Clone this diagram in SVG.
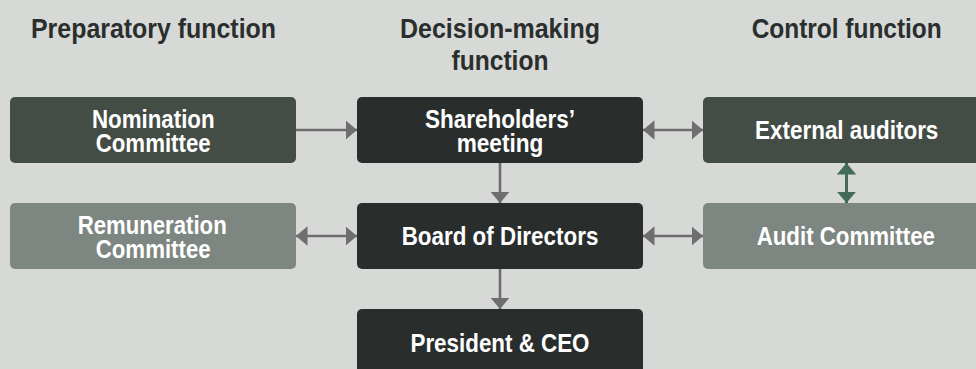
<svg xmlns="http://www.w3.org/2000/svg" width="976" height="369" viewBox="0 0 976 369">
  <defs>
    <style>
      .head { font-family: "Liberation Sans Narrow", "Liberation Sans", Arial, sans-serif; font-weight: bold; font-size: 28px; fill: #2a2f2e; text-anchor: middle; }
      .lbl { font-family: "Liberation Sans Narrow", "Liberation Sans", Arial, sans-serif; font-weight: bold; font-size: 26px; fill: #ffffff; text-anchor: middle; }
      .dark { fill: #292e2d; }
      .mid { fill: #434c45; }
      .light { fill: #7d8680; }
      .conn { stroke: #6e6e6e; stroke-width: 2.6; fill: none; }
      .connG { stroke: #436b5a; stroke-width: 3; fill: none; }
    </style>
    <marker id="ah" viewBox="0 0 11.5 19.5" refX="11.5" refY="9.75" markerWidth="11.5" markerHeight="19.5" markerUnits="userSpaceOnUse" orient="auto-start-reverse">
      <path d="M0,0 L11.5,9.75 L0,19.5 z" fill="#6e6e6e"/>
    </marker>
    <marker id="ahG" viewBox="0 0 11.5 19.5" refX="11.5" refY="9.75" markerWidth="11.5" markerHeight="19.5" markerUnits="userSpaceOnUse" orient="auto-start-reverse">
      <path d="M0,0 L11.5,9.75 L0,19.5 z" fill="#436b5a"/>
    </marker>
  </defs>
  <rect x="0" y="0" width="976" height="369" fill="#d7d9d7"/>

  <g id="headings">
    <text class="head" x="153.5" y="37.5" textLength="245" lengthAdjust="spacingAndGlyphs">Preparatory function</text>
    <text class="head" x="500" y="38" textLength="200" lengthAdjust="spacingAndGlyphs">Decision-making</text>
    <text class="head" x="500" y="69.5" textLength="97" lengthAdjust="spacingAndGlyphs">function</text>
    <text class="head" x="846.7" y="37.5" textLength="190" lengthAdjust="spacingAndGlyphs">Control function</text>
  </g>

  <g id="connectors">
    <path class="conn" d="M296,130 H357" marker-end="url(#ah)"/>
    <path class="conn" d="M643,130 H703" marker-start="url(#ah)" marker-end="url(#ah)"/>
    <path class="conn" d="M500,163 V203" marker-end="url(#ah)"/>
    <path class="conn" d="M296,236 H357" marker-start="url(#ah)" marker-end="url(#ah)"/>
    <path class="conn" d="M643,236 H703" marker-start="url(#ah)" marker-end="url(#ah)"/>
    <path class="conn" d="M500,269 V309" marker-end="url(#ah)"/>
    <path class="connG" d="M846.5,163 V203" marker-start="url(#ahG)" marker-end="url(#ahG)"/>
  </g>

  <g id="nomination">
    <rect class="mid" x="10" y="97" width="286" height="66" rx="5"/>
    <text class="lbl" x="153.3" y="128.3" textLength="122.7" lengthAdjust="spacingAndGlyphs">Nomination</text>
    <text class="lbl" x="153.2" y="151.7" textLength="115" lengthAdjust="spacingAndGlyphs">Committee</text>
  </g>
  <g id="shareholders">
    <rect class="dark" x="357" y="97" width="286" height="66" rx="5"/>
    <text class="lbl" x="500" y="128.3" textLength="150" lengthAdjust="spacingAndGlyphs">Shareholders’</text>
    <text class="lbl" x="500" y="151.7" textLength="86.7" lengthAdjust="spacingAndGlyphs">meeting</text>
  </g>
  <g id="external-auditors">
    <rect class="mid" x="703" y="97" width="290" height="66" rx="5"/>
    <text class="lbl" x="846.7" y="138.5" textLength="183.3" lengthAdjust="spacingAndGlyphs">External auditors</text>
  </g>
  <g id="remuneration">
    <rect class="light" x="10" y="203" width="286" height="66" rx="5"/>
    <text class="lbl" x="152.2" y="234.3" textLength="149" lengthAdjust="spacingAndGlyphs">Remuneration</text>
    <text class="lbl" x="153.2" y="257.7" textLength="115" lengthAdjust="spacingAndGlyphs">Committee</text>
  </g>
  <g id="board">
    <rect class="dark" x="357" y="203" width="286" height="66" rx="5"/>
    <text class="lbl" x="500" y="245" textLength="196.7" lengthAdjust="spacingAndGlyphs">Board of Directors</text>
  </g>
  <g id="audit-committee">
    <rect class="light" x="703" y="203" width="290" height="66" rx="5"/>
    <text class="lbl" x="845.8" y="245" textLength="178.3" lengthAdjust="spacingAndGlyphs">Audit Committee</text>
  </g>
  <g id="president">
    <rect class="dark" x="357" y="309" width="286" height="70" rx="5"/>
    <text class="lbl" x="500" y="351.5" textLength="179" lengthAdjust="spacingAndGlyphs">President &amp; CEO</text>
  </g>
</svg>
